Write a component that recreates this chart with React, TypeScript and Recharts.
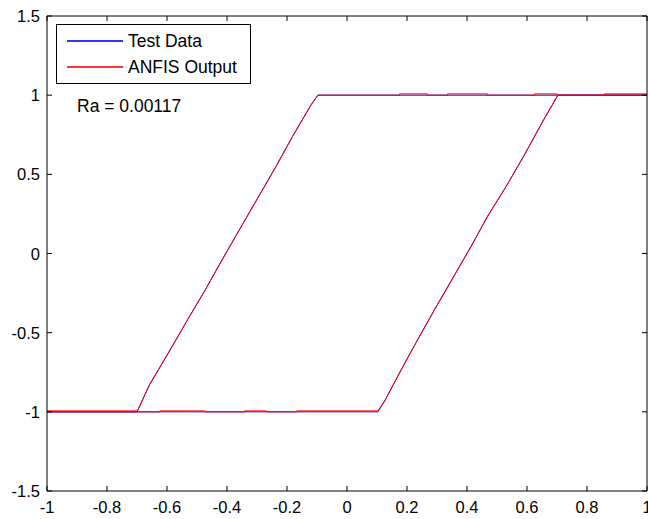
import React from 'react';
import { LineChart, Line, XAxis, YAxis } from 'recharts';

// hysteresis loop, path order: bottom going right, up slope, top going right, back along top, down slope, bottom back
const testX = [-1, 0.103, 0.125, 0.181, 0.236, 0.292, 0.353, 0.414, 0.469, 0.531, 0.592, 0.653, 0.703, 1,
  -0.097, -0.119, -0.181, -0.236, -0.297, -0.358, -0.419, -0.475, -0.531, -0.592, -0.658, -0.7, -1];
const testY = [-1, -1, -0.933, -0.733, -0.543, -0.354, -0.154, 0.046, 0.236, 0.425, 0.625, 0.836, 1, 1,
  1, 0.941, 0.741, 0.552, 0.352, 0.152, -0.049, -0.238, -0.417, -0.617, -0.828, -1, -1];

const anfisX = [-1, -0.7, -0.7, -0.624, -0.624, -0.474, -0.474, -0.341, -0.341, -0.268, -0.268, -0.168, -0.168, 0.103,
  0.125, 0.181, 0.236, 0.292, 0.353, 0.414, 0.469, 0.531, 0.592, 0.653, 0.703, 0.858, 0.858, 1,
  1, 0.7, 0.7, 0.625, 0.625, 0.468, 0.468, 0.335, 0.335, 0.268, 0.268, 0.175, 0.175, -0.097,
  -0.119, -0.181, -0.236, -0.297, -0.358, -0.419, -0.475, -0.531, -0.592, -0.658, -0.7, -1];
const anfisY = [-0.994, -0.994, -1, -1, -0.994, -0.994, -1, -1, -0.994, -0.994, -1, -1, -0.994, -0.994,
  -0.933, -0.733, -0.543, -0.354, -0.154, 0.046, 0.236, 0.425, 0.625, 0.836, 1, 1, 1.008, 1.008,
  1, 1, 1.008, 1.008, 1, 1, 1.008, 1.008, 1, 1, 1.008, 1.008, 1, 1,
  0.941, 0.741, 0.552, 0.352, 0.152, -0.049, -0.238, -0.417, -0.617, -0.828, -1, -1];

const xTicks = [-1, -0.8, -0.6, -0.4, -0.2, 0, 0.2, 0.4, 0.6, 0.8, 1];
const yTicks = [-1.5, -1, -0.5, 0, 0.5, 1, 1.5];
const seriesNames = ['Test Data', 'ANFIS Output'];
const seriesColors = ['#0000ff', '#ff0000'];
const raText = 'Ra = 0.00117';

const testData = testX.map((x, i) => ({ x, y: testY[i] }));
const anfisData = anfisX.map((x, i) => ({ x, y: anfisY[i] }));

const font = '"Liberation Sans", Arial, sans-serif';
const TICK = 5;

const BottomTick = (props: any) => {
  const { x, y, payload } = props;
  return (
    <g>
      <line x1={x} y1={y} x2={x} y2={y - TICK} stroke="#000" />
      <text x={x} y={y + 22} textAnchor="middle" fontSize={16.5} fontFamily={font} fill="#000">
        {payload.value}
      </text>
    </g>
  );
};

const TopTick = (props: any) => {
  const { x, y } = props;
  return <line x1={x} y1={y} x2={x} y2={y + TICK} stroke="#000" />;
};

const LeftTick = (props: any) => {
  const { x, y, payload } = props;
  return (
    <g>
      <line x1={x} y1={y} x2={x + TICK} y2={y} stroke="#000" />
      <text x={x - 7} y={y + 6} textAnchor="end" fontSize={16.5} fontFamily={font} fill="#000">
        {payload.value}
      </text>
    </g>
  );
};

const RightTick = (props: any) => {
  const { x, y } = props;
  return <line x1={x} y1={y} x2={x - TICK} y2={y} stroke="#000" />;
};

const LegendBox = () => (
  <div style={{ position: 'absolute', left: 56, top: 24, fontFamily: font, fontSize: 17.5, color: '#000' }}>
    <div style={{ border: '1px solid #000', background: '#fff', width: 195, height: 60, boxSizing: 'border-box', paddingTop: 3 }}>
      {seriesNames.map((name, i) => (
        <div key={name} style={{ display: 'flex', alignItems: 'center', height: 26 }}>
          <div style={{ width: 56, height: 2, background: seriesColors[i], opacity: 0.8, marginLeft: 10, marginRight: 5 }} />
          <span>{name}</span>
        </div>
      ))}
    </div>
    <div style={{ marginTop: 12, marginLeft: 21 }}>{raText}</div>
  </div>
);

export default function App() {
  return (
    <div style={{ position: 'absolute', left: 0, top: 0, width: 648, height: 519, background: '#fff' }}>
      <LineChart width={648} height={519} margin={{ top: 0, right: 0, bottom: 0, left: 0 }}>
        <XAxis
          xAxisId="bottom"
          dataKey="x"
          type="number"
          domain={[-1, 1]}
          ticks={xTicks}
          allowDataOverflow
          height={28}
          tickSize={0}
          tickMargin={0}
          tickLine={false}
          axisLine={{ stroke: '#000' }}
          tick={<BottomTick />}
          interval={0}
        />
        <XAxis
          xAxisId="top"
          orientation="top"
          dataKey="x"
          type="number"
          domain={[-1, 1]}
          ticks={xTicks}
          allowDataOverflow
          height={16}
          tickSize={0}
          tickMargin={0}
          tickLine={false}
          axisLine={{ stroke: '#000' }}
          tick={<TopTick />}
          interval={0}
        />
        <YAxis
          yAxisId="left"
          dataKey="y"
          type="number"
          domain={[-1.5, 1.5]}
          ticks={yTicks}
          allowDataOverflow
          width={47}
          tickSize={0}
          tickMargin={0}
          tickLine={false}
          axisLine={{ stroke: '#000' }}
          tick={<LeftTick />}
          interval={0}
        />
        <YAxis
          yAxisId="right"
          orientation="right"
          dataKey="y"
          type="number"
          domain={[-1.5, 1.5]}
          ticks={yTicks}
          allowDataOverflow
          width={1}
          tickSize={0}
          tickMargin={0}
          tickLine={false}
          axisLine={{ stroke: '#000' }}
          tick={<RightTick />}
          interval={0}
        />
        <Line
          name={seriesNames[0]}
          data={testData}
          xAxisId="bottom"
          yAxisId="left"
          dataKey="y"
          type="linear"
          stroke={seriesColors[0]}
          strokeWidth={1}
          dot={false}
          activeDot={false}
          isAnimationActive={false}
        />
        <Line
          name={seriesNames[1]}
          data={anfisData}
          xAxisId="bottom"
          yAxisId="left"
          dataKey="y"
          type="linear"
          stroke={seriesColors[1]}
          strokeWidth={1}
          dot={false}
          activeDot={false}
          isAnimationActive={false}
        />
      </LineChart>
      <LegendBox />
    </div>
  );
}
